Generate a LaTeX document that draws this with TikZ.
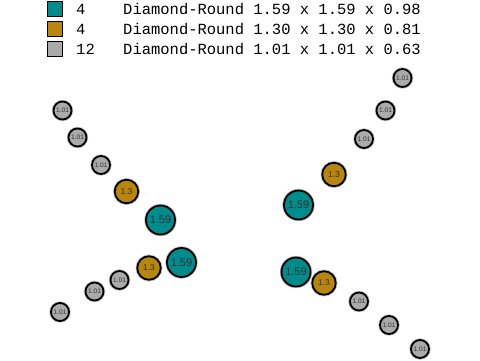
\documentclass[tikz,border=0pt]{standalone}
\usepackage{fontspec}
\setmainfont{Liberation Sans}
\setmonofont{Liberation Mono}
\usetikzlibrary{positioning}
\definecolor{tealball}{RGB}{0,140,140}
\definecolor{goldball}{RGB}{184,134,11}
\definecolor{grayball}{RGB}{170,170,170}
\newcommand*{\legendtext}[1]{\texttt{#1}}

\begin{document}
\begin{tikzpicture}[
        x=1pt,y=-1pt,
        ball/.style={
          circle,draw=black,line width=1.8pt,
          inner sep=0pt,text=black!80,
          preaction={draw=black!25,line width=3.4pt}
        },
        big/.style={ball,fill=tealball,minimum size=29pt,font=\fontsize{11}{11}\selectfont},
        mid/.style={ball,fill=goldball,minimum size=23.5pt,font=\fontsize{8.5}{9}\selectfont},
        small/.style={ball,fill=grayball,minimum size=18pt,font=\fontsize{6.6}{7}\selectfont},
        key/.style={draw=black,line width=1.2pt,minimum size=14.5pt,inner sep=0pt},
        label/.style={anchor=west,inner sep=0pt,font=\fontsize{15.5}{16}\selectfont\ttfamily},
      ]
      \useasboundingbox (0,0) rectangle (480,360);

      % legend
      \node[key,fill=tealball] (keybig) at (55,9) {};
      \node[key,fill=goldball] (keymid) at (55,29) {};
      \node[key,fill=grayball] (keysmall) at (55,49) {};
      \node[label] (nbig) at (76,9) {4};
      \node[label] (nmid) at (76,29) {4};
      \node[label] (nsmall) at (76,49) {12};
      \node[label] (tbig) at (123,9) {\legendtext{Diamond-Round 1.59 x 1.59 x 0.98}};
      \node[label] (tmid) at (123,29) {\legendtext{Diamond-Round 1.30 x 1.30 x 0.81}};
      \node[label] (tsmall) at (123,49) {\legendtext{Diamond-Round 1.01 x 1.01 x 0.63}};

      % left, upper row
      \node[small] (lu1) at (62.5,110.5) {1.01};
      \node[small] (lu2) at (77.5,137.5) {1.01};
      \node[small] (lu3) at (101,165) {1.01};
      \node[mid] (lu4) at (126.5,191.5) {1.3};
      \node[big] (lu5) at (160.5,220) {1.59};

      % left, lower row
      \node[big] (ll5) at (181.5,262.5) {1.59};
      \node[mid] (ll4) at (149,268) {1.3};
      \node[small] (ll3) at (119.5,280) {1.01};
      \node[small] (ll2) at (94.5,291.5) {1.01};
      \node[small] (ll1) at (60,312) {1.01};

      % right, upper row
      \node[small] (ru1) at (402.5,78) {1.01};
      \node[small] (ru2) at (385.5,110.5) {1.01};
      \node[small] (ru3) at (364,139) {1.01};
      \node[mid] (ru4) at (334,174.5) {1.3};
      \node[big] (ru5) at (298.5,205) {1.59};

      % right, lower row
      \node[big] (rl5) at (296,272) {1.59};
      \node[mid] (rl4) at (324,283) {1.3};
      \node[small] (rl3) at (359,301.5) {1.01};
      \node[small] (rl2) at (389,325) {1.01};
      \node[small] (rl1) at (420,349) {1.01};
    \end{tikzpicture}
\end{document}
